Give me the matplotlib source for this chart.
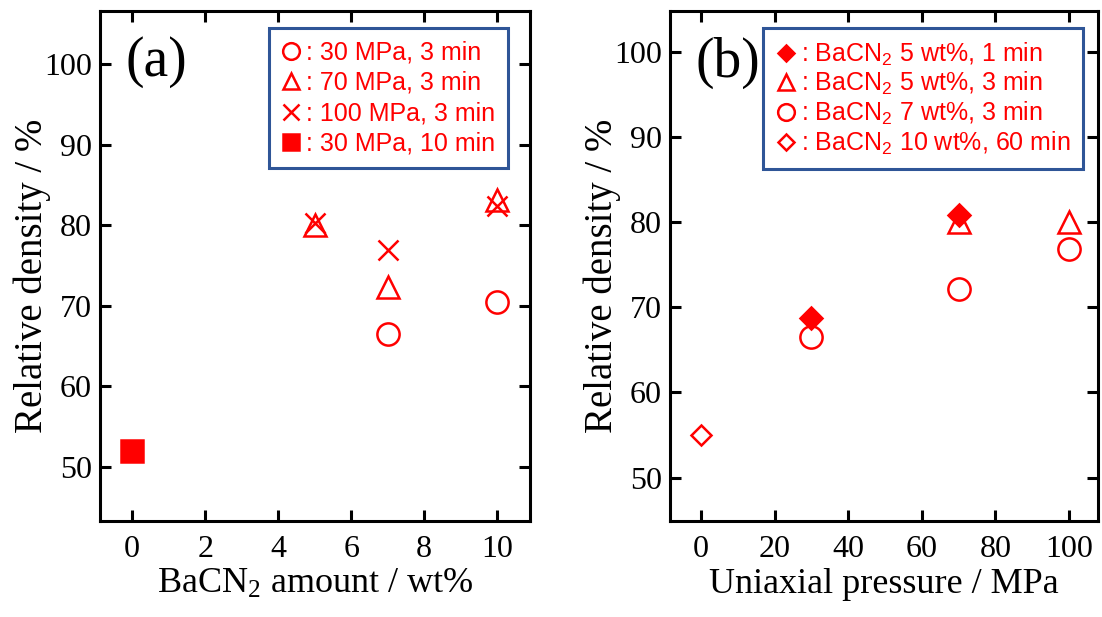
import matplotlib
matplotlib.use("Agg")
import matplotlib.pyplot as plt

plt.rcParams["font.family"] = ["Liberation Serif", "DejaVu Serif"]
plt.rcParams["mathtext.default"] = "regular"

RED = "#ff0000"
BLUE = "#2f5597"

# panel (a): relative density vs BaCN2 amount
a_30_3_x = [7, 10]
a_30_3_y = [66.5, 70.5]
a_70_3_x = [5, 7, 10]
a_70_3_y = [80.1, 72.4, 83.2]
a_100_3_x = [5, 7, 10]
a_100_3_y = [80.3, 76.9, 82.4]
a_30_10_x = [0]
a_30_10_y = [52.0]

# panel (b): relative density vs uniaxial pressure
b_5wt_1_x = [30, 70]
b_5wt_1_y = [68.7, 80.8]
b_5wt_3_x = [70, 100]
b_5wt_3_y = [80.0, 80.0]
b_7wt_3_x = [30, 70, 100]
b_7wt_3_y = [66.5, 72.1, 76.9]
b_10wt_60_x = [0]
b_10wt_60_y = [55.0]

a_xticks = [0, 2, 4, 6, 8, 10]
b_xticks = [0, 20, 40, 60, 80, 100]
yticks = [50, 60, 70, 80, 90, 100]

W, H = 1102, 617
fig = plt.figure(figsize=(W / 100, H / 100), dpi=100)
ax_a = fig.add_axes([100 / W, (H - 521) / H, 430 / W, 510 / H])
ax_b = fig.add_axes([670 / W, (H - 521) / H, 428 / W, 510 / H])

ms = 16
mew = 1.8
kw = dict(linestyle="none", color=RED, markeredgewidth=mew)

ax_a.plot(a_30_3_x, a_30_3_y, marker="o", markersize=ms, markerfacecolor="none", label=": 30 MPa, 3 min", **kw)
ax_a.plot(a_70_3_x, a_70_3_y, marker="^", markersize=ms, markerfacecolor="none", label=": 70 MPa, 3 min", **kw)
ax_a.plot(a_100_3_x, a_100_3_y, marker="x", markersize=ms - 1, label=": 100 MPa, 3 min", **kw)
ax_a.plot(a_30_10_x, a_30_10_y, marker="s", markersize=ms, markerfacecolor=RED, label=": 30 MPa, 10 min", **kw)

ax_b.plot(b_5wt_1_x, b_5wt_1_y, marker="D", markersize=11.5, markerfacecolor=RED, label=": BaCN$_2$ 5 wt%, 1 min", **kw)
ax_b.plot(b_5wt_3_x, b_5wt_3_y, marker="^", markersize=ms, markerfacecolor="none", label=": BaCN$_2$ 5 wt%, 3 min", **kw)
ax_b.plot(b_7wt_3_x, b_7wt_3_y, marker="o", markersize=ms, markerfacecolor="none", label=": BaCN$_2$ 7 wt%, 3 min", **kw)
ax_b.plot(b_10wt_60_x, b_10wt_60_y, marker="D", markersize=10.5, markerfacecolor="none", label=": BaCN$_2$ 10 wt%, 60 min", **kw)

ax_a.set_xlim(-0.88, 10.9)
ax_a.set_ylim(43.3, 106.6)
ax_b.set_xlim(-8.4, 107.9)
ax_b.set_ylim(44.9, 104.8)

ax_a.set_xticks(a_xticks)
ax_b.set_xticks(b_xticks)
ax_a.set_xlabel("BaCN$_2$ amount / wt%", fontsize=26, labelpad=3)
ax_b.set_xlabel("Uniaxial pressure / MPa", fontsize=26, labelpad=3)

for ax, tag in ((ax_a, "(a)"), (ax_b, "(b)")):
    ax.set_yticks(yticks)
    ax.set_ylabel("Relative density / %", fontsize=28)
    ax.yaxis.set_label_coords(-0.115, 0.48)
    ax.tick_params(direction="in", top=True, right=True, length=8, width=2.2,
                   labelsize=23, pad=6)
    ax.tick_params(axis="x", pad=10)
    for sp in ax.spines.values():
        sp.set_linewidth(2.2)
    ax.text(0.06, 0.95, tag, transform=ax.transAxes, fontsize=40,
            ha="left", va="top")

legend_kw = dict(loc="upper right", frameon=True, fancybox=False,
                 handlelength=0.8, handletextpad=0.2,
                 borderpad=0.5, borderaxespad=0, labelcolor=RED,
                 prop={"family": "Liberation Sans", "size": 18},
                 markerscale=0.75)
leg_a = ax_a.legend(bbox_to_anchor=(0.949, 0.967), labelspacing=0.26, **legend_kw)
leg_b = ax_b.legend(bbox_to_anchor=(0.965, 0.967), labelspacing=0.1, **legend_kw)
for leg in (leg_a, leg_b):
    fr = leg.get_frame()
    fr.set_edgecolor(BLUE)
    fr.set_linewidth(2.2)
    fr.set_alpha(1)

fig.savefig("out.png", dpi=100)
